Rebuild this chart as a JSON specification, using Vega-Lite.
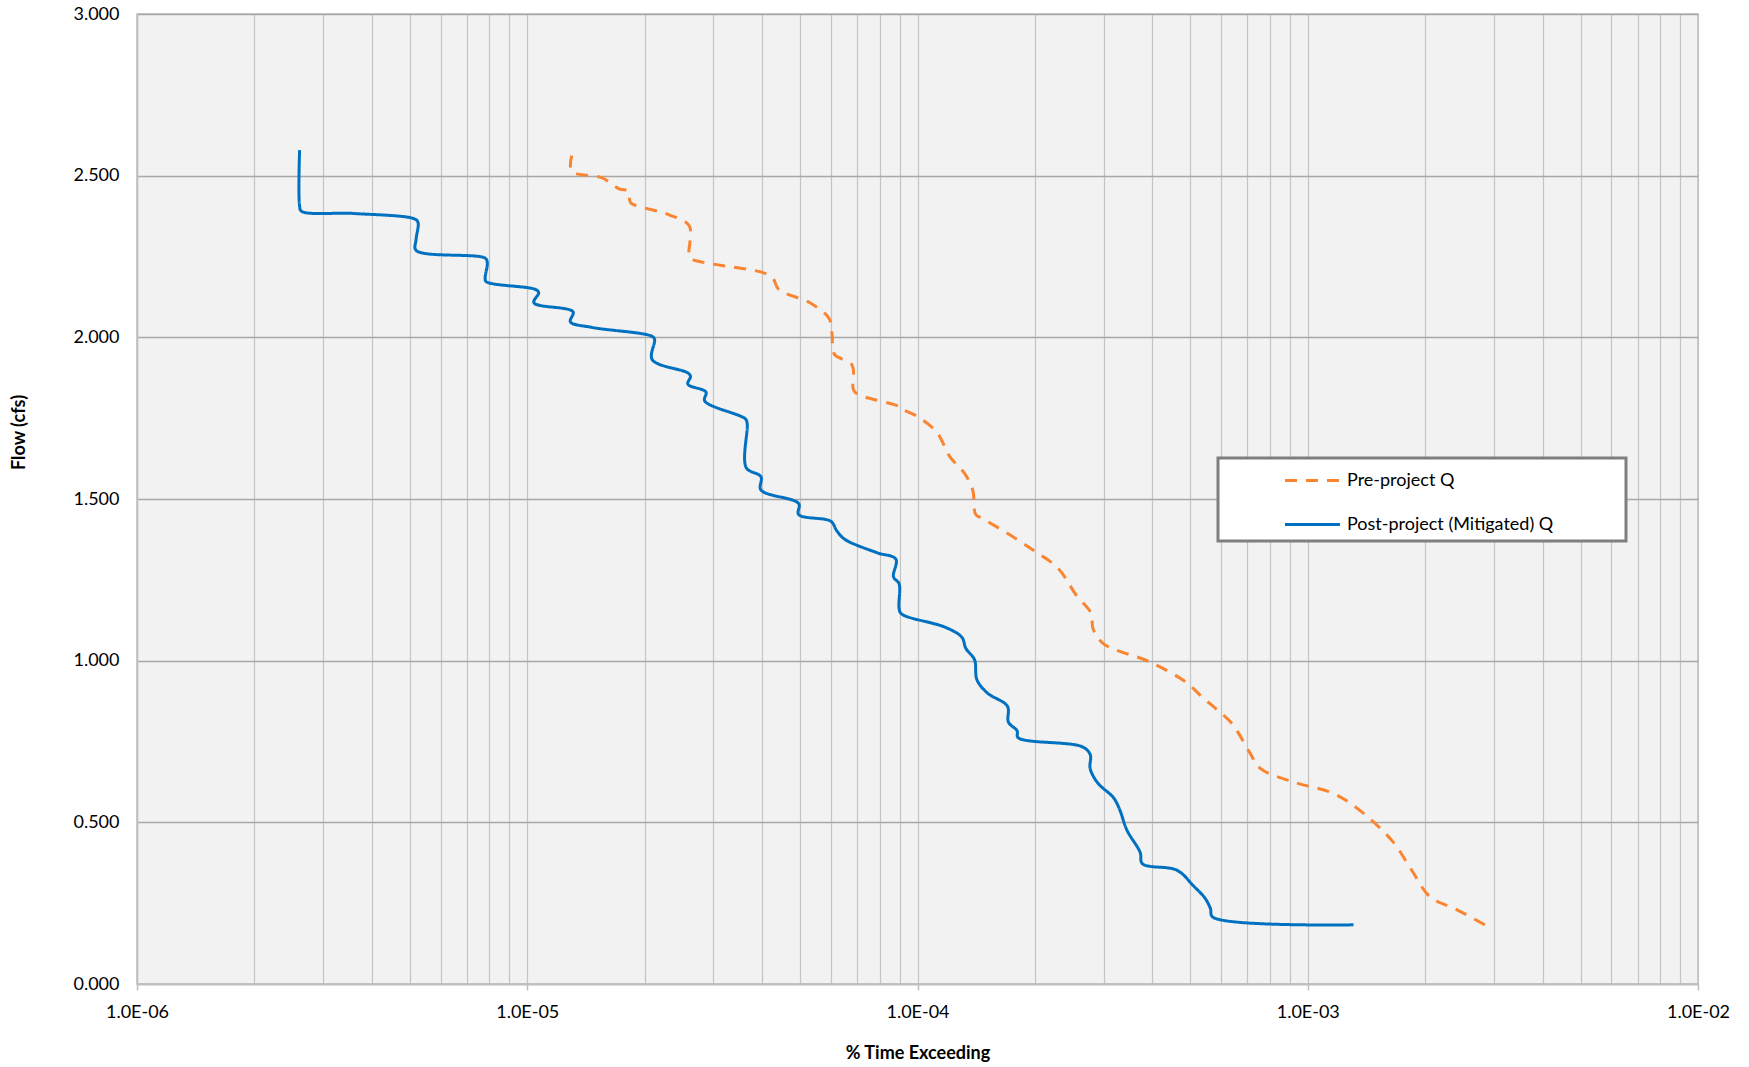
{
  "$schema": "https://vega.github.io/schema/vega-lite/v6.json",
  "width": 1561,
  "height": 970,
  "autosize": {"type": "none"},
  "padding": {"left": 137, "top": 14, "right": 51, "bottom": 83},
  "background": "#ffffff",
  "config": {
    "font": "Lato",
    "view": {"fill": "#f2f2f2", "stroke": "#bfbfbf", "strokeWidth": 1.5}
  },
  "data": {"values": [
    {"s": "Post-project (Mitigated) Q", "i": 1, "x": 2.61e-6, "y": 2.579},
    {"s": "Post-project (Mitigated) Q", "i": 2, "x": 2.61e-6, "y": 2.407},
    {"s": "Post-project (Mitigated) Q", "i": 3, "x": 2.64e-6, "y": 2.39},
    {"s": "Post-project (Mitigated) Q", "i": 4, "x": 3.6e-6, "y": 2.383},
    {"s": "Post-project (Mitigated) Q", "i": 5, "x": 5.15e-6, "y": 2.366},
    {"s": "Post-project (Mitigated) Q", "i": 6, "x": 5.25e-6, "y": 2.355},
    {"s": "Post-project (Mitigated) Q", "i": 7, "x": 5.19e-6, "y": 2.303},
    {"s": "Post-project (Mitigated) Q", "i": 8, "x": 5.19e-6, "y": 2.269},
    {"s": "Post-project (Mitigated) Q", "i": 9, "x": 7.8e-6, "y": 2.245},
    {"s": "Post-project (Mitigated) Q", "i": 10, "x": 7.9e-6, "y": 2.231},
    {"s": "Post-project (Mitigated) Q", "i": 11, "x": 7.8e-6, "y": 2.183},
    {"s": "Post-project (Mitigated) Q", "i": 12, "x": 7.85e-6, "y": 2.172},
    {"s": "Post-project (Mitigated) Q", "i": 13, "x": 1.05e-5, "y": 2.148},
    {"s": "Post-project (Mitigated) Q", "i": 14, "x": 1.07e-5, "y": 2.138},
    {"s": "Post-project (Mitigated) Q", "i": 15, "x": 1.04e-5, "y": 2.107},
    {"s": "Post-project (Mitigated) Q", "i": 16, "x": 1.31e-5, "y": 2.079},
    {"s": "Post-project (Mitigated) Q", "i": 17, "x": 1.29e-5, "y": 2.048},
    {"s": "Post-project (Mitigated) Q", "i": 18, "x": 1.46e-5, "y": 2.031},
    {"s": "Post-project (Mitigated) Q", "i": 19, "x": 2.09e-5, "y": 2.003},
    {"s": "Post-project (Mitigated) Q", "i": 20, "x": 2.12e-5, "y": 1.993},
    {"s": "Post-project (Mitigated) Q", "i": 21, "x": 2.09e-5, "y": 1.931},
    {"s": "Post-project (Mitigated) Q", "i": 22, "x": 2.58e-5, "y": 1.89},
    {"s": "Post-project (Mitigated) Q", "i": 23, "x": 2.62e-5, "y": 1.879},
    {"s": "Post-project (Mitigated) Q", "i": 24, "x": 2.58e-5, "y": 1.855},
    {"s": "Post-project (Mitigated) Q", "i": 25, "x": 2.87e-5, "y": 1.831},
    {"s": "Post-project (Mitigated) Q", "i": 26, "x": 2.85e-5, "y": 1.803},
    {"s": "Post-project (Mitigated) Q", "i": 27, "x": 3.62e-5, "y": 1.748},
    {"s": "Post-project (Mitigated) Q", "i": 28, "x": 3.66e-5, "y": 1.734},
    {"s": "Post-project (Mitigated) Q", "i": 29, "x": 3.64e-5, "y": 1.597},
    {"s": "Post-project (Mitigated) Q", "i": 30, "x": 3.97e-5, "y": 1.569},
    {"s": "Post-project (Mitigated) Q", "i": 31, "x": 3.97e-5, "y": 1.528},
    {"s": "Post-project (Mitigated) Q", "i": 32, "x": 4.96e-5, "y": 1.486},
    {"s": "Post-project (Mitigated) Q", "i": 33, "x": 4.96e-5, "y": 1.452},
    {"s": "Post-project (Mitigated) Q", "i": 34, "x": 6.0e-5, "y": 1.431},
    {"s": "Post-project (Mitigated) Q", "i": 35, "x": 6.2e-5, "y": 1.403},
    {"s": "Post-project (Mitigated) Q", "i": 36, "x": 6.5e-5, "y": 1.376},
    {"s": "Post-project (Mitigated) Q", "i": 37, "x": 7.87e-5, "y": 1.334},
    {"s": "Post-project (Mitigated) Q", "i": 38, "x": 8.8e-5, "y": 1.314},
    {"s": "Post-project (Mitigated) Q", "i": 39, "x": 8.68e-5, "y": 1.259},
    {"s": "Post-project (Mitigated) Q", "i": 40, "x": 8.97e-5, "y": 1.238},
    {"s": "Post-project (Mitigated) Q", "i": 41, "x": 8.97e-5, "y": 1.162},
    {"s": "Post-project (Mitigated) Q", "i": 42, "x": 9.09e-5, "y": 1.145},
    {"s": "Post-project (Mitigated) Q", "i": 43, "x": 1.18e-4, "y": 1.103},
    {"s": "Post-project (Mitigated) Q", "i": 44, "x": 1.30e-4, "y": 1.072},
    {"s": "Post-project (Mitigated) Q", "i": 45, "x": 1.33e-4, "y": 1.038},
    {"s": "Post-project (Mitigated) Q", "i": 46, "x": 1.40e-4, "y": 1.003},
    {"s": "Post-project (Mitigated) Q", "i": 47, "x": 1.42e-4, "y": 0.941},
    {"s": "Post-project (Mitigated) Q", "i": 48, "x": 1.51e-4, "y": 0.9},
    {"s": "Post-project (Mitigated) Q", "i": 49, "x": 1.70e-4, "y": 0.859},
    {"s": "Post-project (Mitigated) Q", "i": 50, "x": 1.71e-4, "y": 0.81},
    {"s": "Post-project (Mitigated) Q", "i": 51, "x": 1.80e-4, "y": 0.783},
    {"s": "Post-project (Mitigated) Q", "i": 52, "x": 1.81e-4, "y": 0.762},
    {"s": "Post-project (Mitigated) Q", "i": 53, "x": 2.64e-4, "y": 0.734},
    {"s": "Post-project (Mitigated) Q", "i": 54, "x": 2.77e-4, "y": 0.71},
    {"s": "Post-project (Mitigated) Q", "i": 55, "x": 2.77e-4, "y": 0.666},
    {"s": "Post-project (Mitigated) Q", "i": 56, "x": 2.90e-4, "y": 0.621},
    {"s": "Post-project (Mitigated) Q", "i": 57, "x": 3.18e-4, "y": 0.576},
    {"s": "Post-project (Mitigated) Q", "i": 58, "x": 3.30e-4, "y": 0.538},
    {"s": "Post-project (Mitigated) Q", "i": 59, "x": 3.44e-4, "y": 0.476},
    {"s": "Post-project (Mitigated) Q", "i": 60, "x": 3.72e-4, "y": 0.407},
    {"s": "Post-project (Mitigated) Q", "i": 61, "x": 3.77e-4, "y": 0.372},
    {"s": "Post-project (Mitigated) Q", "i": 62, "x": 4.62e-4, "y": 0.352},
    {"s": "Post-project (Mitigated) Q", "i": 63, "x": 5.1e-4, "y": 0.303},
    {"s": "Post-project (Mitigated) Q", "i": 64, "x": 5.45e-4, "y": 0.266},
    {"s": "Post-project (Mitigated) Q", "i": 65, "x": 5.63e-4, "y": 0.234},
    {"s": "Post-project (Mitigated) Q", "i": 66, "x": 5.71e-4, "y": 0.207},
    {"s": "Post-project (Mitigated) Q", "i": 67, "x": 1.31e-3, "y": 0.183},
    {"s": "Pre-project Q", "i": 1, "x": 1.30e-5, "y": 2.562},
    {"s": "Pre-project Q", "i": 2, "x": 1.30e-5, "y": 2.514},
    {"s": "Pre-project Q", "i": 3, "x": 1.556e-5, "y": 2.493},
    {"s": "Pre-project Q", "i": 4, "x": 1.72e-5, "y": 2.459},
    {"s": "Pre-project Q", "i": 5, "x": 1.82e-5, "y": 2.452},
    {"s": "Pre-project Q", "i": 6, "x": 1.83e-5, "y": 2.424},
    {"s": "Pre-project Q", "i": 7, "x": 1.85e-5, "y": 2.414},
    {"s": "Pre-project Q", "i": 8, "x": 2.31e-5, "y": 2.379},
    {"s": "Pre-project Q", "i": 9, "x": 2.60e-5, "y": 2.345},
    {"s": "Pre-project Q", "i": 10, "x": 2.60e-5, "y": 2.252},
    {"s": "Pre-project Q", "i": 11, "x": 2.65e-5, "y": 2.241},
    {"s": "Pre-project Q", "i": 12, "x": 4.02e-5, "y": 2.2},
    {"s": "Pre-project Q", "i": 13, "x": 4.26e-5, "y": 2.183},
    {"s": "Pre-project Q", "i": 14, "x": 4.41e-5, "y": 2.148},
    {"s": "Pre-project Q", "i": 15, "x": 5.3e-5, "y": 2.107},
    {"s": "Pre-project Q", "i": 16, "x": 5.93e-5, "y": 2.059},
    {"s": "Pre-project Q", "i": 17, "x": 6.04e-5, "y": 2.01},
    {"s": "Pre-project Q", "i": 18, "x": 6.12e-5, "y": 1.948},
    {"s": "Pre-project Q", "i": 19, "x": 6.8e-5, "y": 1.914},
    {"s": "Pre-project Q", "i": 20, "x": 6.85e-5, "y": 1.838},
    {"s": "Pre-project Q", "i": 21, "x": 7.03e-5, "y": 1.824},
    {"s": "Pre-project Q", "i": 22, "x": 8.98e-5, "y": 1.786},
    {"s": "Pre-project Q", "i": 23, "x": 9.2e-5, "y": 1.776},
    {"s": "Pre-project Q", "i": 24, "x": 1.0e-4, "y": 1.755},
    {"s": "Pre-project Q", "i": 25, "x": 1.12e-4, "y": 1.707},
    {"s": "Pre-project Q", "i": 26, "x": 1.21e-4, "y": 1.631},
    {"s": "Pre-project Q", "i": 27, "x": 1.32e-4, "y": 1.579},
    {"s": "Pre-project Q", "i": 28, "x": 1.385e-4, "y": 1.528},
    {"s": "Pre-project Q", "i": 29, "x": 1.41e-4, "y": 1.452},
    {"s": "Pre-project Q", "i": 30, "x": 1.46e-4, "y": 1.441},
    {"s": "Pre-project Q", "i": 31, "x": 1.72e-4, "y": 1.39},
    {"s": "Pre-project Q", "i": 32, "x": 2.0e-4, "y": 1.338},
    {"s": "Pre-project Q", "i": 33, "x": 2.29e-4, "y": 1.286},
    {"s": "Pre-project Q", "i": 34, "x": 2.56e-4, "y": 1.2},
    {"s": "Pre-project Q", "i": 35, "x": 2.78e-4, "y": 1.148},
    {"s": "Pre-project Q", "i": 36, "x": 2.82e-4, "y": 1.097},
    {"s": "Pre-project Q", "i": 37, "x": 3.0e-4, "y": 1.052},
    {"s": "Pre-project Q", "i": 38, "x": 3.92e-4, "y": 0.997},
    {"s": "Pre-project Q", "i": 39, "x": 4.87e-4, "y": 0.934},
    {"s": "Pre-project Q", "i": 40, "x": 5.38e-4, "y": 0.886},
    {"s": "Pre-project Q", "i": 41, "x": 5.9e-4, "y": 0.845},
    {"s": "Pre-project Q", "i": 42, "x": 6.42e-4, "y": 0.803},
    {"s": "Pre-project Q", "i": 43, "x": 7.09e-4, "y": 0.717},
    {"s": "Pre-project Q", "i": 44, "x": 7.57e-4, "y": 0.666},
    {"s": "Pre-project Q", "i": 45, "x": 9.23e-4, "y": 0.624},
    {"s": "Pre-project Q", "i": 46, "x": 1.16e-3, "y": 0.59},
    {"s": "Pre-project Q", "i": 47, "x": 1.37e-3, "y": 0.534},
    {"s": "Pre-project Q", "i": 48, "x": 1.65e-3, "y": 0.441},
    {"s": "Pre-project Q", "i": 49, "x": 1.84e-3, "y": 0.355},
    {"s": "Pre-project Q", "i": 50, "x": 2.06e-3, "y": 0.269},
    {"s": "Pre-project Q", "i": 51, "x": 2.40e-3, "y": 0.231},
    {"s": "Pre-project Q", "i": 52, "x": 2.88e-3, "y": 0.179}
  ]},
  "mark": {"type": "line", "strokeWidth": 3, "strokeCap": "butt", "strokeJoin": "round", "interpolate": "catmull-rom"},
  "encoding": {
    "x": {
      "field": "x", "type": "quantitative",
      "scale": {"type": "log", "domain": [1e-6, 1e-2], "nice": false},
      "axis": {
        "title": "% Time Exceeding",
        "titleFont": "Lato", "titleFontSize": 18, "titleFontWeight": "bold", "titleColor": "#000000", "titlePadding": 23,
        "values": [1e-6, 2e-6, 3e-6, 4e-6, 5e-6, 6e-6, 7e-6, 8e-6, 9e-6,
                   1e-5, 2e-5, 3e-5, 4e-5, 5e-5, 6e-5, 7e-5, 8e-5, 9e-5,
                   1e-4, 2e-4, 3e-4, 4e-4, 5e-4, 6e-4, 7e-4, 8e-4, 9e-4,
                   1e-3, 2e-3, 3e-3, 4e-3, 5e-3, 6e-3, 7e-3, 8e-3, 9e-3, 1e-2],
        "labelExpr": "abs(log(datum.value)/LN10 - round(log(datum.value)/LN10)) < 0.001 ? '1.0E-0' + (-round(log(datum.value)/LN10)) : ''",
        "labelFont": "Lato", "labelFontSize": 18, "labelColor": "#000000", "labelPadding": 13, "labelFlush": false, "labelOverlap": false,
        "grid": true, "gridColor": "#c4c4c4", "gridWidth": 1.2,
        "domainColor": "#bfbfbf", "domainWidth": 1.5,
        "ticks": true, "tickSize": 6, "tickColor": "#bfbfbf", "tickWidth": 1.5,
        "tickOpacity": {"condition": {"test": "abs(log(datum.value)/LN10 - round(log(datum.value)/LN10)) < 0.001", "value": 1}, "value": 0}
      }
    },
    "y": {
      "field": "y", "type": "quantitative",
      "scale": {"domain": [0, 3], "nice": false},
      "axis": {
        "title": "Flow (cfs)",
        "titleFont": "Lato", "titleFontSize": 18, "titleFontWeight": "bold", "titleColor": "#000000",
        "titleX": -109, "titleY": 418,
        "values": [0, 0.5, 1, 1.5, 2, 2.5, 3],
        "format": ".3f",
        "labelFont": "Lato", "labelFontSize": 18, "labelColor": "#000000", "labelPadding": 18,
        "ticks": false,
        "grid": true, "gridColor": "#a8a8a8", "gridWidth": 1.3,
        "domainColor": "#bfbfbf", "domainWidth": 1.5
      }
    },
    "order": {"field": "i", "type": "quantitative"},
    "color": {
      "field": "s", "type": "nominal",
      "scale": {"domain": ["Pre-project Q", "Post-project (Mitigated) Q"], "range": ["#fa8530", "#0070c0"]},
      "legend": {
        "title": null,
        "orient": "none", "legendX": 1081, "legendY": 444,
        "fillColor": "#ffffff", "strokeColor": "#7f7f7f",
        "padding": 7,
        "symbolType": "M-2,0H2", "symbolSize": 756, "symbolStrokeWidth": 3, "symbolOffset": 72,
        "labelFont": "Lato", "labelFontSize": 18, "labelColor": "#000000", "labelOffset": 19,
        "labelLimit": 600,
        "labelExpr": "datum.label + '\u2800\u2800\u2800\u2800\u2800'",
        "rowPadding": 19,
        "encode": {"legend": {"update": {"strokeWidth": {"value": 3}}}}
      }
    },
    "strokeDash": {
      "field": "s", "type": "nominal",
      "scale": {"domain": ["Pre-project Q", "Post-project (Mitigated) Q"], "range": [[12, 9], [1, 0]]},
      "legend": null
    }
  }
}
